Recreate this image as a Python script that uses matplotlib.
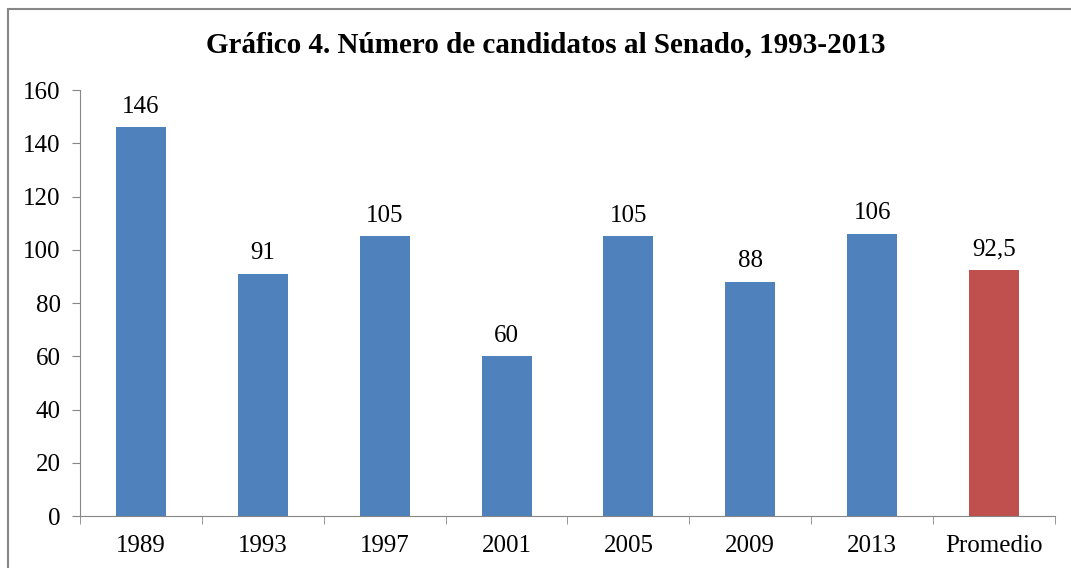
import matplotlib.pyplot as plt
from matplotlib.patches import Rectangle

categories = ['1989', '1993', '1997', '2001', '2005', '2009', '2013', 'Promedio']
values = [146, 91, 105, 60, 105, 88, 106, 92.5]
labels = ['146', '91', '105', '60', '105', '88', '106', '92,5']
colors = ['#4F81BD'] * 7 + ['#C0504D']

plt.rcParams['font.family'] = ['Liberation Serif', 'DejaVu Serif']

fig = plt.figure(figsize=(10.71, 5.68), dpi=100)
ax = fig.add_axes([0.0747, 0.0915, 0.9103, 0.75])

x = list(range(len(categories)))
ax.bar(x, values, width=0.41, color=colors)
for xi, v, lab in zip(x, values, labels):
    ax.annotate(lab, (xi, v), xytext=(0, 7), textcoords='offset points',
                ha='center', va='bottom', fontsize=18)

ax.set_xlim(-0.5, len(categories) - 0.5)
ax.set_ylim(0, 160)
ax.set_yticks(range(0, 161, 20))
ax.tick_params(axis='y', labelsize=18, direction='out', length=6, color='#868686', pad=8)
ax.set_xticks(x)
ax.set_xticklabels(categories)
ax.set_xticks([i - 0.5 for i in range(len(categories) + 1)], minor=True)
ax.tick_params(axis='x', which='major', length=0, labelsize=18, pad=14)
ax.tick_params(axis='x', which='minor', length=6, color='#868686')

for s in ['top', 'right']:
    ax.spines[s].set_visible(False)
for s in ['left', 'bottom']:
    ax.spines[s].set_color('#868686')

fig.text(0.51, 0.921, 'Gráfico 4. Número de candidatos al Senado, 1993-2013',
         ha='center', va='center', fontsize=21, fontweight='bold')

# outer chart frame (right and bottom edges fall outside the picture)
fig.patches.append(Rectangle((0.0075, -0.05), 1.05, 1.034, transform=fig.transFigure,
                             fill=False, edgecolor='#868686', linewidth=1.5))

fig.savefig('out.png', dpi=100)
